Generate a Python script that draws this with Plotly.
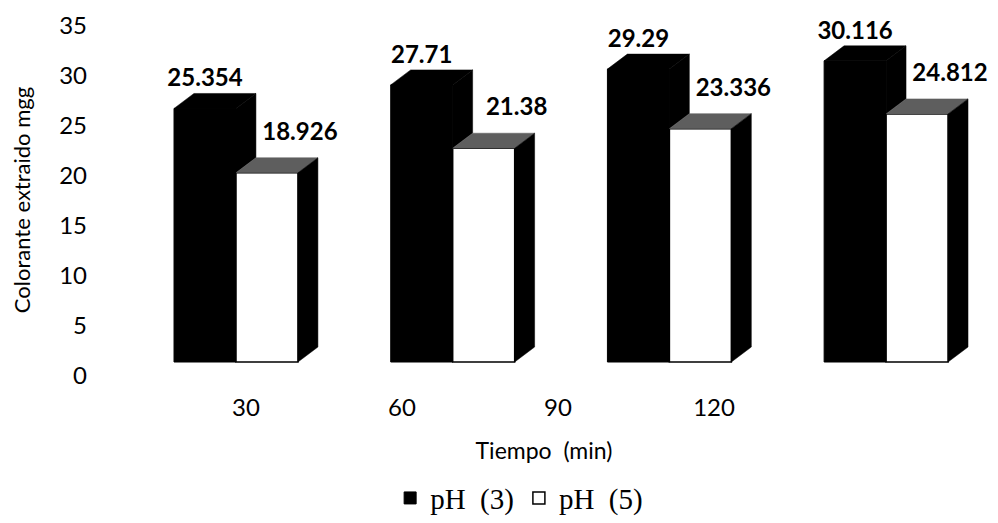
import plotly.graph_objects as go

# ---------------- data ----------------
categories = ["30", "60", "90", "120"]
ph3 = [25.354, 27.71, 29.29, 30.116]
ph5 = [18.926, 21.38, 23.336, 24.812]
series_names = ["pH  (3)", "pH  (5)"]
y_ticks = [0, 5, 10, 15, 20, 25, 30, 35]

# ---------------- style ----------------
W = 0.286    # front face width of one bar (bar-axis units)
DX = 0.092   # 3D depth, horizontal
DY = 1.5     # 3D depth, vertical (value units)
FONT = "Lato"
idx = list(range(len(categories)))


def polys(shapes):
    xs, ys = [], []
    for pts in shapes:
        for (a, b) in pts:
            xs.append(a)
            ys.append(b)
        xs.append(pts[0][0])
        ys.append(pts[0][1])
        xs.append(None)
        ys.append(None)
    return xs, ys


def face(shapes, color):
    xs, ys = polys(shapes)
    return go.Scatter(x=xs, y=ys, mode="lines", fill="toself", fillcolor=color,
                      line=dict(color=color, width=0.5), hoverinfo="skip",
                      showlegend=False, xaxis="x", yaxis="y")


fig = go.Figure()

# front faces (bars)
fig.add_trace(go.Bar(x=idx, y=ph3, offset=-W, width=W, name=series_names[0],
                     marker=dict(color="black", line=dict(color="black", width=1))))
fig.add_trace(go.Bar(x=idx, y=ph5, offset=0, width=W, name=series_names[1],
                     marker=dict(color="white", line=dict(color="black", width=1.5))))

# 3D faces
fig.add_trace(face([[(i - W, v), (i - W + DX, v + DY), (i + DX, v + DY), (i, v)]
                    for i, v in zip(idx, ph3)], "black"))
fig.add_trace(face([[(i, w), (i + DX, w + DY), (i + DX, v + DY), (i, v)]
                    for i, v, w in zip(idx, ph3, ph5)], "black"))
fig.add_trace(face([[(i, w), (i + DX, w + DY), (i + W + DX, w + DY), (i + W, w)]
                    for i, w in zip(idx, ph5)], "#5e5e5e"))
fig.add_trace(face([[(i + W, 0), (i + W + DX, DY), (i + W + DX, w + DY), (i + W, w)]
                    for i, w in zip(idx, ph5)], "black"))

# data labels
lab_font = dict(family=FONT, size=24, color="black")
fig.add_trace(go.Scatter(x=[i - W / 2 for i in idx], y=[v + DY + 0.1 for v in ph3],
                         mode="text", text=[str(v) for v in ph3], textposition="top center",
                         textfont=lab_font, texttemplate="<b>%{text}</b>",
                         hoverinfo="skip", showlegend=False))
fig.add_trace(go.Scatter(x=[i + W / 2 + 0.152 for i in idx], y=[w + DY + 1.2 for w in ph5],
                         mode="text", text=[str(w) for w in ph5], textposition="top center",
                         textfont=lab_font, texttemplate="<b>%{text}</b>",
                         hoverinfo="skip", showlegend=False))

# empty trace registering the category / value label axes
fig.add_trace(go.Scatter(x=[], y=[], xaxis="x2", yaxis="y2", showlegend=False, hoverinfo="skip"))

fig.update_layout(
    width=998, height=523,
    margin=dict(l=100, r=10, t=20, b=143, autoexpand=False),
    paper_bgcolor="white", plot_bgcolor="white",
    font=dict(family=FONT, size=23, color="black"),
    showlegend=True,
    barmode="overlay",
    # bar axes (hidden)
    xaxis=dict(range=[-0.6276, 3.4702], visible=False, domain=[0, 1]),
    yaxis=dict(range=[-1.8, 34.2], visible=False, domain=[0, 1]),
    # label axes
    xaxis2=dict(overlaying="x", anchor="y2", side="bottom",
                range=[-0.9359, 4.7564], tickmode="array", tickvals=idx, ticktext=categories,
                showgrid=False, zeroline=False, showline=False, ticks="",
                ticklabelstandoff=11,
                tickfont=dict(family=FONT, size=24),
                title=dict(text="Tiempo  (min)", font=dict(family=FONT, size=23), standoff=22)),
    yaxis2=dict(overlaying="y", anchor="x2", side="left",
                range=[-0.4, 35.6], tickmode="array", tickvals=y_ticks,
                showgrid=False, zeroline=False, showline=False, ticks="",
                ticklabelstandoff=12,
                tickfont=dict(family=FONT, size=24),
                title=dict(text="Colorante extraido mgg", font=dict(family=FONT, size=22), standoff=22)),
    legend=dict(orientation="h", x=0.472, xanchor="center", y=-0.328, yanchor="middle",
                font=dict(family="Liberation Serif", size=29, color="black"),
                bgcolor="rgba(0,0,0,0)", itemwidth=30, traceorder="normal"),
)

fig.write_html("out.html")
